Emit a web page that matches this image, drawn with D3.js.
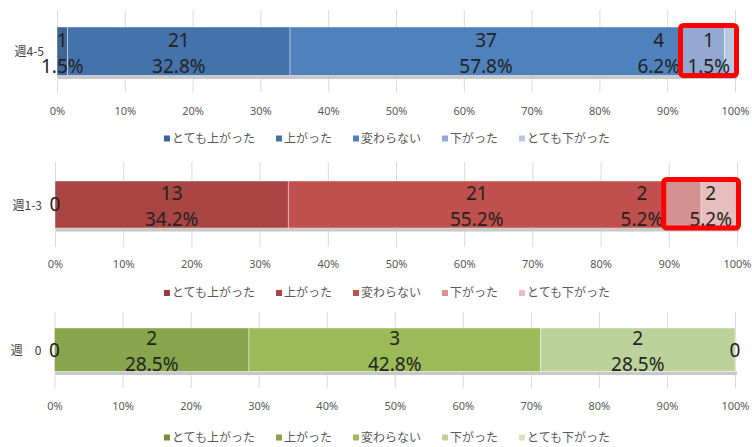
<!DOCTYPE html>
<html><head><meta charset="utf-8">
<script src="https://cdn.jsdelivr.net/npm/d3@7"></script>
<style>body{margin:0;background:#fff}svg{display:block}</style>
</head><body>
<svg id="c" width="752" height="447"></svg>
<script>
// ---------- data ----------
const categories = ["週4-5", "週1-3", "週　0"];
const seriesNames = ["とても上がった", "上がった", "変わらない", "下がった", "とても下がった"];
const countsW45 = [1, 21, 37, 4, 1];
const pctW45 = ["1.5%", "32.8%", "57.8%", "6.2%", "1.5%"];
const countsW13 = [0, 13, 21, 2, 2];
const pctW13 = ["0.0%", "34.2%", "55.2%", "5.2%", "5.2%"];
const countsW0 = [0, 2, 3, 2, 0];
const pctW0 = ["0.0%", "28.5%", "42.8%", "28.5%", "0.0%"];
const tickValues = [0, 10, 20, 30, 40, 50, 60, 70, 80, 90, 100];
const highlightFrom = [3, 3, null]; // highlighted series (下がった + とても下がった)

// ---------- styles / layout ----------
const palettes = [
  ["#3f6598", "#4472ab", "#4f81bd", "#94a9d2", "#b8c8e3"],
  ["#963d3b", "#a94644", "#c0504d", "#d4918f", "#e5bebd"],
  ["#728f3a", "#87a54c", "#9bbb59", "#bcd29b", "#d7e4bd"]
];
const layout = [
  {x0: 57, x1: 735, gTop: 10, gBot: 92, bTop: 27, bBot: 75.5, tickY: 111, legY: 138.5},
  {x0: 55, x1: 737, gTop: 162, gBot: 247, bTop: 181, bBot: 228, tickY: 264, legY: 293},
  {x0: 54.5, x1: 735, gTop: 312, gBot: 388, bTop: 328, bBot: 371.5, tickY: 406, legY: 437.5}
];
const counts = [countsW45, countsW13, countsW0];
const pcts = [pctW45, pctW13, pctW0];

const svg = d3.select("#c");
const LABEL_FONT = "'Noto Sans', 'DejaVu Sans', sans-serif";
const CJK_FONT = "'Noto Sans CJK JP', 'Noto Sans', sans-serif";

categories.forEach((cat, i) => {
  const L = layout[i];
  const pal = palettes[i];
  const c = counts[i];
  const total = d3.sum(c);
  const ends = Array.from(d3.cumsum(c)).map(v => v / total * 100);
  const starts = ends.map((e, j) => j === 0 ? 0 : ends[j - 1]);
  const x = d3.scaleLinear().domain([0, 100]).range([L.x0, L.x1]);
  const g = svg.append("g");
  const cy = (L.bTop + L.bBot) / 2;

  // gridlines
  g.append("g").attr("transform", `translate(0,${L.gBot})`)
    .call(d3.axisBottom(x).tickValues(tickValues).tickSize(-(L.gBot - L.gTop)).tickFormat(""))
    .call(a => a.select(".domain").remove())
    .call(a => a.selectAll("line").attr("stroke", "#d9d9d9").attr("stroke-width", 1));

  // tick labels
  g.append("g").attr("transform", `translate(0,${L.tickY})`)
    .call(d3.axisBottom(x).tickValues(tickValues).tickSize(0).tickFormat(d => d + "%"))
    .call(a => a.select(".domain").remove())
    .call(a => a.selectAll("text").attr("y", 0).attr("dy", "0.35em")
      .attr("fill", "#595959").style("font-family", LABEL_FONT).style("font-size", "11px"));

  // bar shadow
  g.append("rect").attr("x", x(0) + 1).attr("y", L.bBot).attr("width", x(100) - x(0) + 1).attr("height", 3.5)
    .attr("fill", "#c8c8c8");

  // segments
  c.forEach((v, j) => {
    if (v <= 0) return;
    g.append("rect").attr("x", x(starts[j])).attr("y", L.bTop)
      .attr("width", x(ends[j]) - x(starts[j])).attr("height", L.bBot - L.bTop)
      .attr("fill", pal[j]).attr("stroke", "#ffffff").attr("stroke-opacity", 0.5).attr("stroke-width", 0.8);
  });

  // data labels
  c.forEach((v, j) => {
    const t = g.append("text").style("font-family", LABEL_FONT).style("font-size", "19px")
      .attr("fill", "#222").attr("text-anchor", "middle");
    if (v === 0) {
      t.attr("x", x(starts[j])).attr("y", cy).attr("dy", "0.36em").text(v);
      return;
    }
    const l1 = t.append("tspan").text(v);
    const l2 = t.append("tspan").text(pcts[i][j]);
    const wMax = Math.max(l1.node().getComputedTextLength(), l2.node().getComputedTextLength());
    const segW = x(ends[j]) - x(starts[j]);
    let cx = (x(starts[j]) + x(ends[j])) / 2;
    if (j >= 3 && segW < wMax + 4) {
      cx = (j === c.length - 1) ? x(ends[j]) - 5 - wMax / 2 : x(starts[j]) - 2 - wMax / 2;
    }
    l1.attr("x", cx).attr("y", cy - 4.5);
    l2.attr("x", cx).attr("y", cy + 21.5);
  });

  // category label
  g.append("text").attr("x", L.x0 - 13).attr("y", cy + 1).attr("dy", "0.35em")
    .attr("text-anchor", "end").attr("fill", "#404040")
    .style("font-family", CJK_FONT).style("font-size", "12px").text(cat);

  // highlight box
  if (highlightFrom[i] !== null) {
    const k = highlightFrom[i];
    const bx0 = x(starts[k]) - 1.5, bx1 = x(100) + 1.5;
    g.append("rect").attr("x", bx0).attr("y", L.bTop - 1.5)
      .attr("width", bx1 - bx0).attr("height", L.bBot - L.bTop + 1.5)
      .attr("rx", 3).attr("fill", "none").attr("stroke", "#ff0000").attr("stroke-width", 5);
  }

  // legend
  const leg = g.append("g");
  const items = seriesNames.map((name, j) => {
    const it = leg.append("g");
    it.append("rect").attr("width", 6).attr("height", 6).attr("y", -3).attr("fill", pal[j]);
    const tx = it.append("text").attr("x", 8).attr("dy", "0.35em").attr("fill", "#595959")
      .style("font-family", CJK_FONT).style("font-size", "12px").text(name);
    return {it, w: 8 + tx.node().getComputedTextLength()};
  });
  const gap = 21;
  const totalW = d3.sum(items, d => d.w) + gap * (items.length - 1);
  let lx = 387 - totalW / 2;
  items.forEach(d => {
    d.it.attr("transform", `translate(${lx},${L.legY})`);
    lx += d.w + gap;
  });
});
</script>
</body></html>
